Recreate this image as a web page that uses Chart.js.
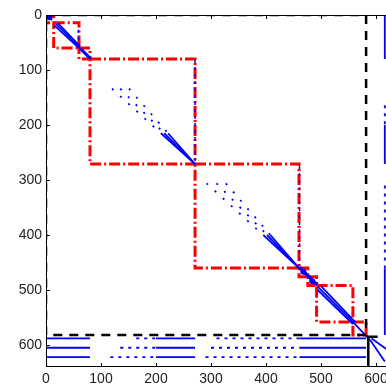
<!DOCTYPE html>
<html lang="en">
<head>
<meta charset="UTF-8">
<title>Sparsity pattern</title>
<style>
  html, body { margin: 0; padding: 0; background: #fff; overflow: hidden; }
  #spy { display: block; }
</style>
<script src="https://cdn.jsdelivr.net/npm/chart.js"></script>
</head>
<body>
<canvas id="spy" width="410" height="384"></canvas>
<script>
// axis range and tick labels (same on both axes)
const axisMax = 640;
const tickValues = [0, 100, 200, 300, 400, 500, 600];

// diagonal block boundaries (red squares)
const blockEdges = [0, 14, 60, 80, 271, 460, 476, 492, 558, 582];
// end of the interior part (black dashed square)
const sepEdge = 582;
// outline of the last corner block
const cornerOutline = [[603, 585], [586, 585], [586, 640]];

// coupling rows at the bottom and columns on the right
const borderRows = [588, 605, 622];
const borderCols = [616, 633, 650];
// ranges where these rows / columns are full
const denseRanges = [[0, 80], [200, 271], [461, 582]];
// ranges where they are sparse, one list per row
const sparseRanges = [
  [[164, 200], [310, 461]],
  [[135, 200], [300, 461]],
  [[117, 200], [290, 461]]
];

// bands in the two big blocks: sparse start, start of dense part, end  ([col, row])
const bigBands = [
  [[120, 134], [209, 215], [271, 271]],
  [[135, 134], [215, 215], [271, 271]],
  [[151, 134], [222, 215], [271, 271]],
  [[292, 306], [395, 400], [460, 460]],
  [[310, 306], [402, 400], [460, 460]],
  [[327, 306], [408, 400], [460, 460]]
];

// dense diagonal strokes in the small blocks
const smallBands = [
  [[0, 0], [11, 9]],
  [[15, 19], [60, 60]], [[18, 16], [61, 58]], [[22, 15], [62, 57]],
  [[60, 60], [80, 80]], [[63, 60], [82, 79]],
  [[460, 460], [492, 492]], [[462, 458], [494, 490]],
  [[494, 494], [560, 560]], [[500, 493], [562, 558]], [[494, 500], [558, 562]],
  [[558, 558], [590, 592]], [[590, 592], [616, 630]], [[592, 588], [620, 608]]
];

// sparse columns along block edges: [col, firstRow, lastRow]
const sparseCols = [
  [59, 27, 55],
  [271, 82, 266],
  [461, 275, 455]
];

// single dense spots
const spots = [[6, 4], [468, 467], [484, 484]];

const BLUE = '#0000ff';
const RED = '#ff0000';
const DOTS = [2, 9];
const ROW_DOTS = [3, 5];

function line(points, color, width, dash, order) {
  return {
    data: points.map(p => ({ x: p[0], y: p[1] })),
    showLine: true,
    borderColor: color,
    backgroundColor: color,
    borderWidth: width,
    borderDash: dash || [],
    borderCapStyle: 'butt',
    pointRadius: 0,
    order: order
  };
}

function square(a, b) {
  return [[a, a], [b, a], [b, b], [a, b], [a, a]];
}

const datasets = [];

// black outlines on top
datasets.push(line(square(0, sepEdge), '#000', 2.5, [9, 7], 0));
datasets.push(line(cornerOutline, '#000', 2.5, [], 0));

// blue nonzeros
bigBands.forEach(b => {
  const ds = line(b, BLUE, 1.8, [], 1);
  ds.segment = { borderDash: ctx => ctx.p0DataIndex === 0 ? DOTS : [] };
  datasets.push(ds);
});
smallBands.forEach(b => datasets.push(line(b, BLUE, 1.8, [], 1)));
sparseCols.forEach(c => datasets.push(line([[c[0], c[1]], [c[0], c[2]]], BLUE, 1.5, [3, 4], 1)));

borderRows.forEach((r, i) => {
  denseRanges.forEach(([a, b]) => datasets.push(line([[a, r], [b, r]], BLUE, 1.8, [], 1)));
  sparseRanges[i].forEach(([a, b]) => datasets.push(line([[a, r], [b, r]], BLUE, 1.8, ROW_DOTS, 1)));
});
borderCols.forEach((c, i) => {
  denseRanges.forEach(([a, b]) => datasets.push(line([[c, a], [c, b]], BLUE, 1.8, [], 1)));
  sparseRanges[i].forEach(([a, b]) => datasets.push(line([[c, a], [c, b]], BLUE, 1.8, ROW_DOTS, 1)));
});

datasets.push({
  data: spots.map(p => ({ x: p[0], y: p[1] })),
  showLine: false,
  pointRadius: 3,
  pointBorderWidth: 0,
  backgroundColor: BLUE,
  borderColor: BLUE,
  order: 1
});

// red dash-dot squares around the diagonal blocks (underneath)
for (let i = 0; i < blockEdges.length - 1; i++) {
  datasets.push(line(square(blockEdges[i], blockEdges[i + 1]), RED, 3, [11, 3, 2, 3], 2));
}

// box around the plot with ticks pointing inwards
const framePlugin = {
  id: 'frame',
  afterDraw(chart) {
    const { ctx, chartArea: a, scales: { x, y } } = chart;
    ctx.save();
    ctx.strokeStyle = '#000';
    ctx.lineWidth = 1;
    ctx.strokeRect(a.left + 0.5, a.top + 0.5, a.right - a.left - 1, a.bottom - a.top - 1);
    ctx.beginPath();
    tickValues.forEach(v => {
      const px = Math.round(x.getPixelForValue(v)) + 0.5;
      ctx.moveTo(px, a.bottom); ctx.lineTo(px, a.bottom - 4);
      ctx.moveTo(px, a.top); ctx.lineTo(px, a.top + 4);
      const py = Math.round(y.getPixelForValue(v)) + 0.5;
      ctx.moveTo(a.left, py); ctx.lineTo(a.left + 4, py);
      ctx.moveTo(a.right, py); ctx.lineTo(a.right - 4, py);
    });
    ctx.stroke();
    ctx.restore();
  }
};

const tickFont = { family: 'Liberation Sans', size: 14 };

new Chart(document.getElementById('spy'), {
  type: 'scatter',
  data: { datasets: datasets },
  options: {
    responsive: false,
    animation: false,
    layout: { padding: { top: 15, right: 12, bottom: 0, left: 0 } },
    plugins: { legend: { display: false }, tooltip: { enabled: false } },
    scales: {
      x: {
        type: 'linear',
        position: 'bottom',
        min: 0,
        max: axisMax,
        grid: { display: false, drawTicks: false },
        border: { display: false },
        ticks: { color: '#222', font: tickFont, padding: 4, autoSkip: false, maxRotation: 0 },
        afterBuildTicks: s => { s.ticks = tickValues.map(v => ({ value: v })); },
        afterFit: s => { s.height = 17; }
      },
      y: {
        type: 'linear',
        reverse: true,
        min: 0,
        max: axisMax,
        grid: { display: false, drawTicks: false },
        border: { display: false },
        ticks: { color: '#222', font: tickFont, padding: 4, autoSkip: false },
        afterBuildTicks: s => { s.ticks = tickValues.map(v => ({ value: v })); },
        afterFit: s => { s.width = 46; }
      }
    }
  },
  plugins: [framePlugin]
});
</script>
</body>
</html>
